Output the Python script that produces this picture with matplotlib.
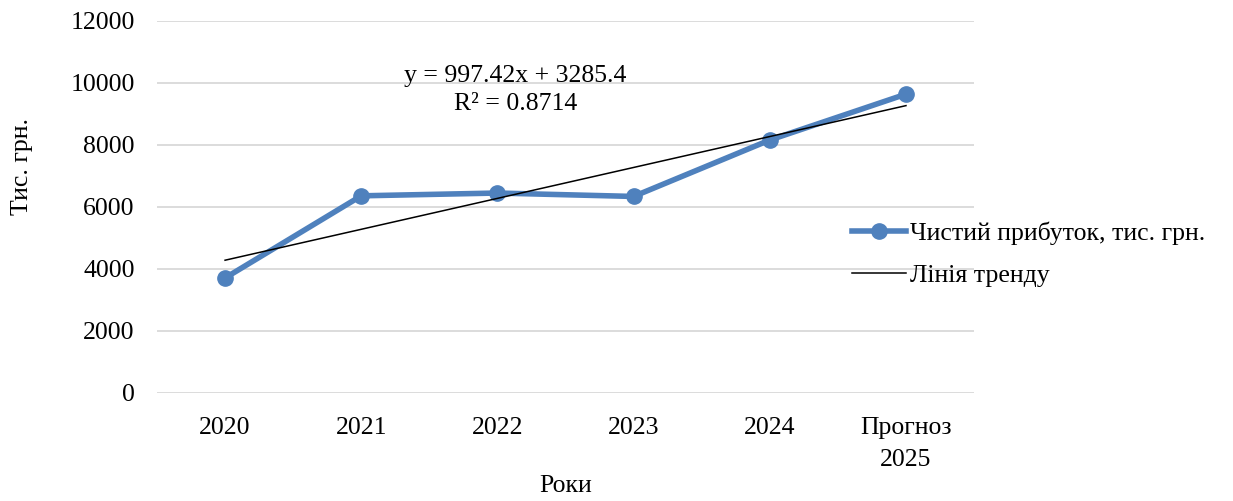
import numpy as np
import matplotlib
matplotlib.use("Agg")
import matplotlib.pyplot as plt

plt.rcParams['font.family'] = ['Liberation Serif', 'DejaVu Serif']

years = ["2020", "2021", "2022", "2023", "2024", "Прогноз\n2025"]
profit = [3710, 6360, 6450, 6340, 8160, 9640]
# лінійний тренд: y = a*x + b, x = 1..6
trend_a = 997.42
trend_b = 3285.4
r2 = 0.8714
yticks = [0, 2000, 4000, 6000, 8000, 10000, 12000]

fs = 18.5

fig = plt.figure(figsize=(12.33, 5.01), dpi=100)
ax = fig.add_axes([0.1273, 0.2156, 0.6627, 0.7425])

x = np.arange(len(years))
ax.plot(x, profit, color="#4F81BD", lw=4.0, marker="o", ms=11,
        label="Чистий прибуток, тис. грн.", zorder=3)
xt = np.arange(1, len(years) + 1)
ax.plot(x, trend_a * xt + trend_b, color="black", lw=1.1,
        label="Лінія тренду", zorder=4)

ax.text(2.13, 9780, f"y = {trend_a}x + {trend_b}\nR² = {r2}",
        ha="center", va="center", fontsize=fs, linespacing=1.35)

ax.set_xlim(-0.5, 5.5)
ax.set_ylim(0, 12000)
ax.set_yticks(yticks)
ax.set_xticks(x)
ax.set_xticklabels(years, fontsize=fs, linespacing=1.6)
ax.tick_params(axis="y", labelsize=fs, length=0, pad=16)
ax.tick_params(axis="x", length=0, pad=17)
ax.grid(axis="y", color="#d9d9d9", lw=1.3)
ax.set_axisbelow(True)
for s in ax.spines.values():
    s.set_visible(False)

ax.set_xlabel("Роки", fontsize=fs, labelpad=3)
fig.text(22 / 1233, 1 - 167 / 501, "Тис. грн.", rotation=90,
         ha="center", va="center", fontsize=fs)

ax.legend(loc="center left", bbox_to_anchor=(0.838, 0.372), frameon=False,
          fontsize=fs, handlelength=2.1, handletextpad=0.15, labelspacing=0.75,
          borderaxespad=0)

fig.savefig("out.png", dpi=100)
